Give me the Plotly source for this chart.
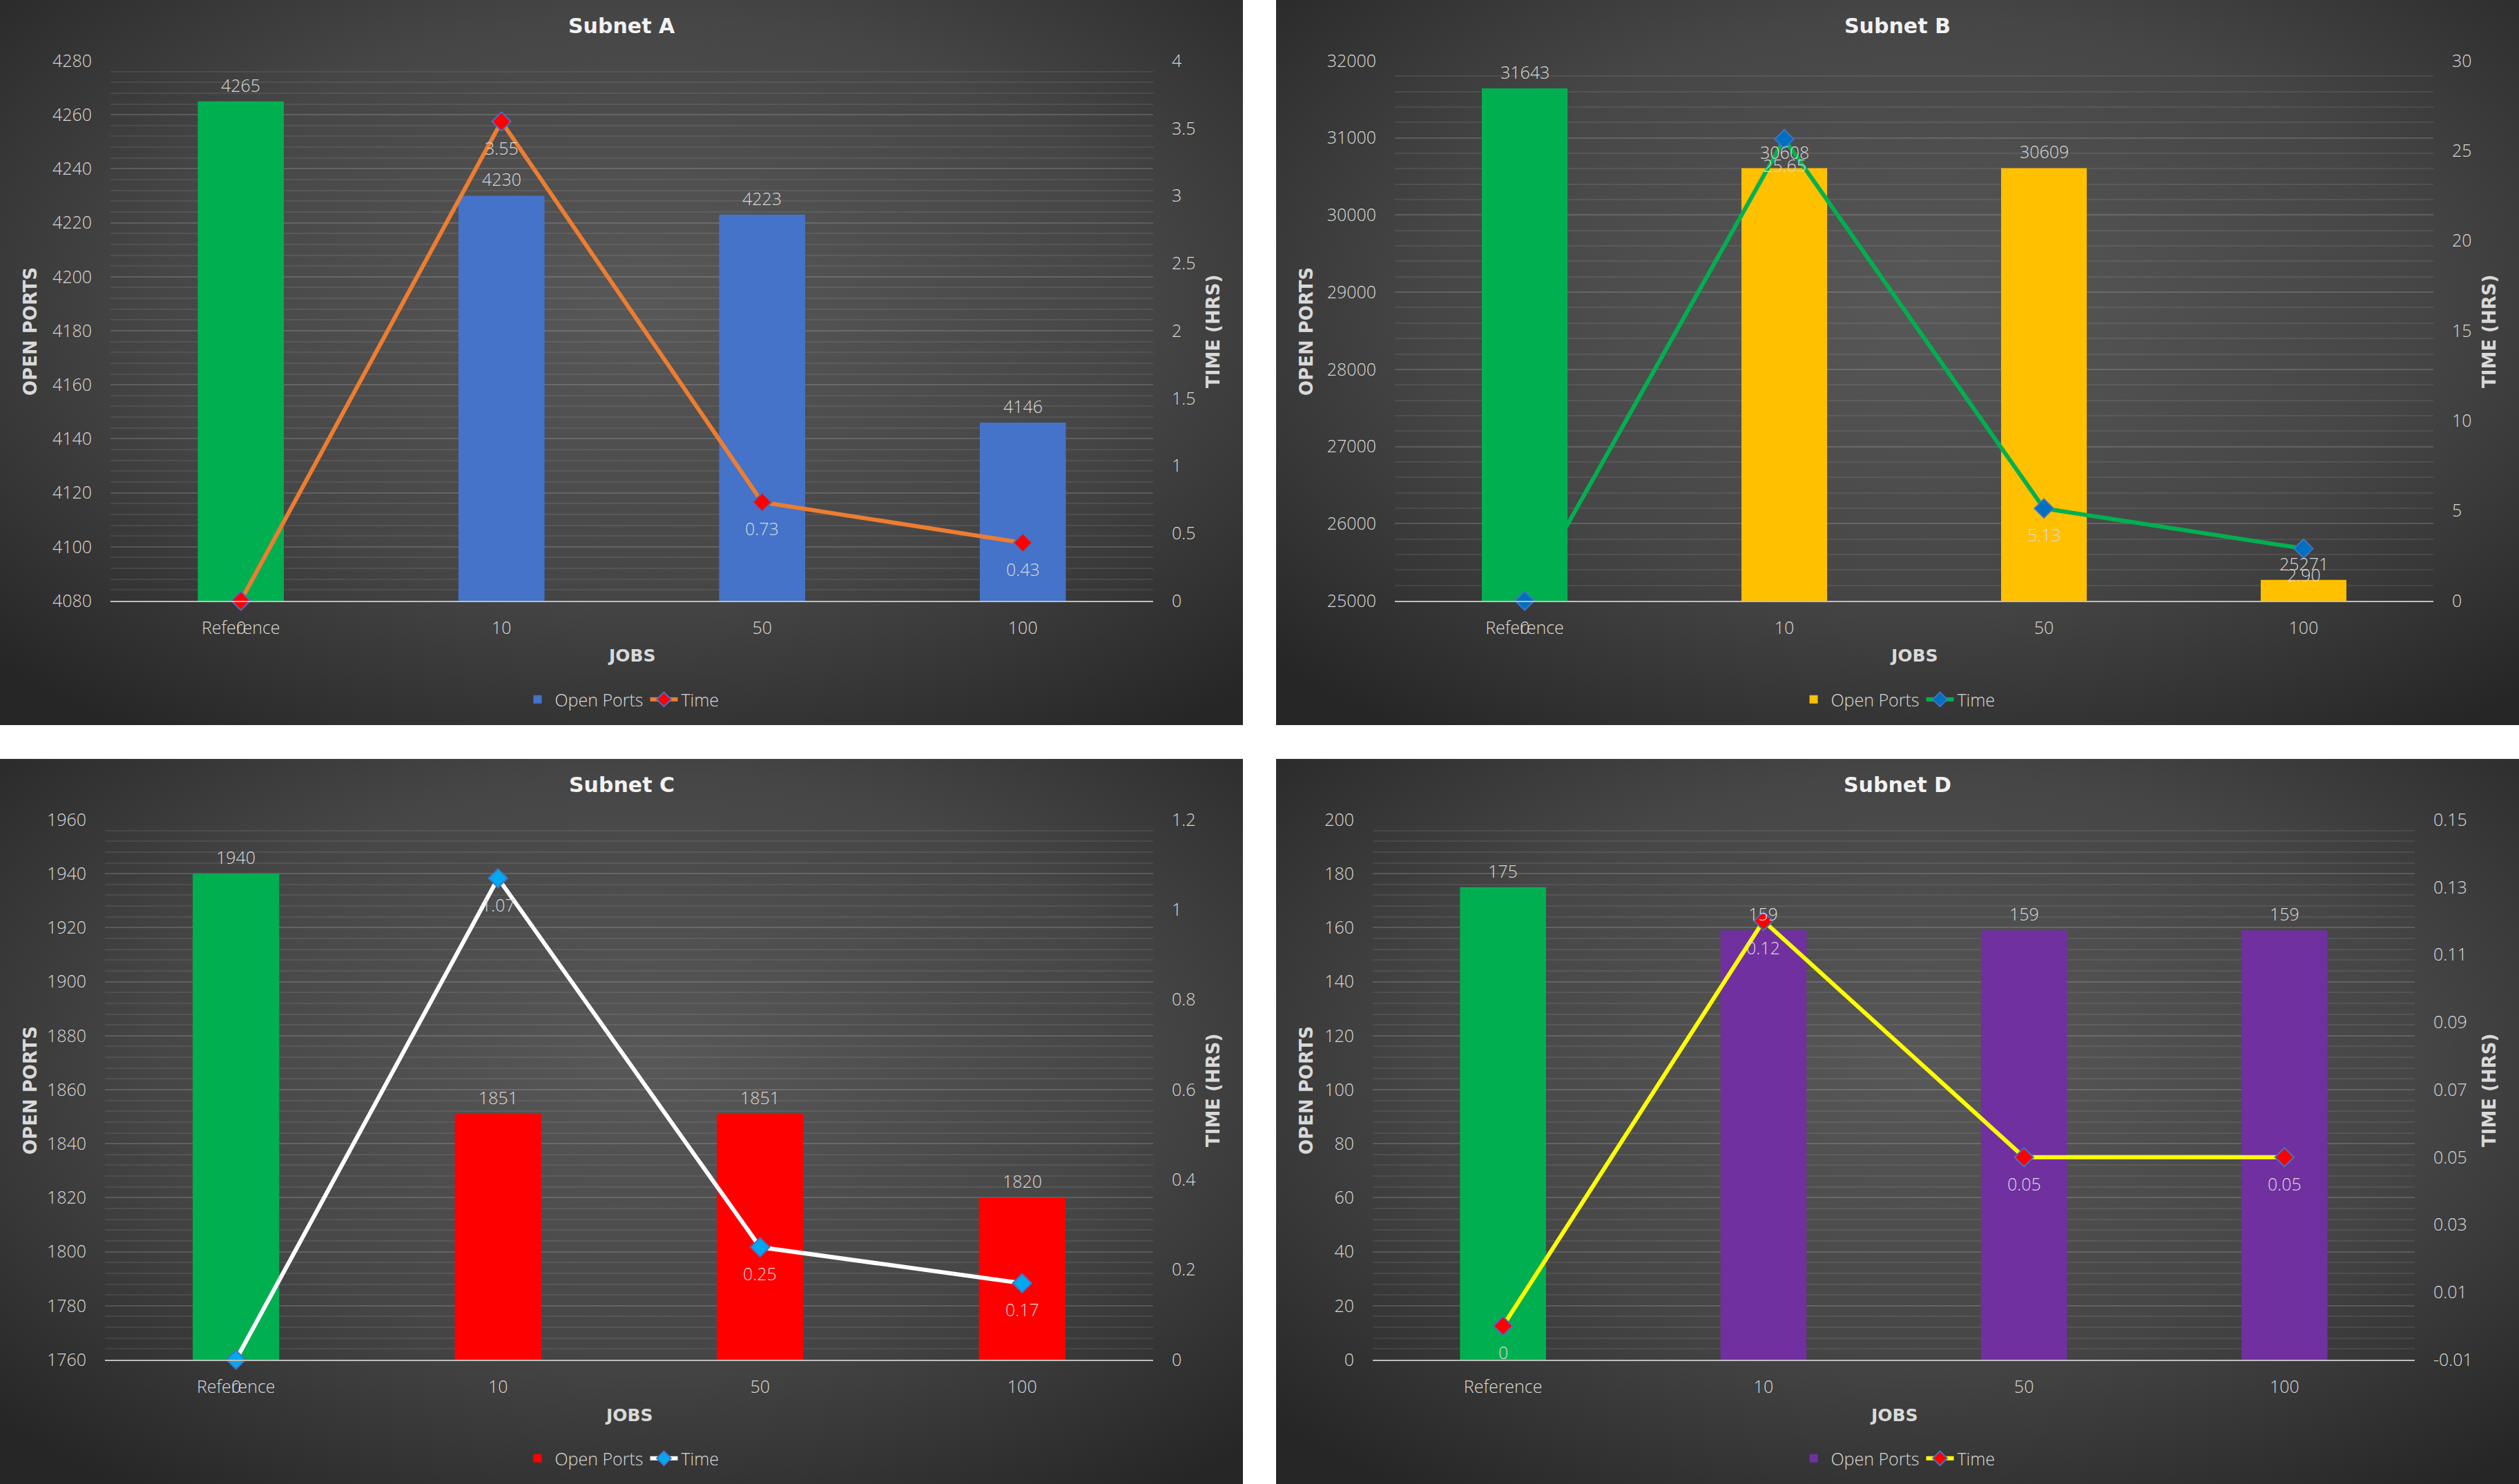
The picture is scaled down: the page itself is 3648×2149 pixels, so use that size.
import base64
import numpy as np
import plotly.graph_objects as go

W, H = 3648, 2149

# data
categories = ["Reference", "10", "50", "100"]
subnets = ["Subnet A", "Subnet B", "Subnet C", "Subnet D"]

ports_a = [4265, 4230, 4223, 4146]
time_a = [0, 3.55, 0.73, 0.43]
ports_b = [31643, 30608, 30609, 25271]
time_b = [0, 25.65, 5.13, 2.90]
ports_c = [1940, 1851, 1851, 1820]
time_c = [0, 1.07, 0.25, 0.17]
ports_d = [175, 159, 159, 159]
time_d = [0, 0.12, 0.05, 0.05]

ports = [ports_a, ports_b, ports_c, ports_d]
times = [time_a, time_b, time_c, time_d]

# axis scales (min, max, step)
left_axes = [(4080, 4280, 20), (25000, 32000, 1000), (1760, 1960, 20), (0, 200, 20)]
right_axes = [(0, 4, 0.5), (0, 30, 5), (0, 1.2, 0.2), (-0.01, 0.15, 0.02)]

# styles
REF_COLOR = "#00B050"
bar_colors = ["#4473C9", "#FFC000", "#FF0000", "#7030A0"]
line_colors = ["#ED7D31", "#00B050", "#FFFFFF", "#FFFF00"]
marker_colors = ["#FF0000", "#0070C0", "#00A8F0", "#FF0000"]
TXT = "#d9d9d9"
FONT = "Open Sans"
BOLD = "DejaVu Sans"
LIGHT = dict(size=25, color=TXT, family=FONT, weight=300)

# panel origins and plot boxes (pixels, relative to panel)
panels = [(0, 0), (1848, 0), (0, 1099), (1848, 1099)]
boxes = [(160, 1670), (172, 1676), (152, 1670), (140, 1649)]
PW, PH = 1800, 1050
TOP, BOT = 88, 870

svg = (
    '<svg xmlns="http://www.w3.org/2000/svg" width="1800" height="1050" '
    'preserveAspectRatio="none"><defs><radialGradient id="g" cx="52%" cy="42%" r="72%">'
    '<stop offset="0" stop-color="#585858"/><stop offset="0.55" stop-color="#464646"/>'
    '<stop offset="1" stop-color="#262626"/></radialGradient></defs>'
    '<rect width="1800" height="1050" fill="url(#g)"/></svg>'
)
bg_src = "data:image/svg+xml;base64," + base64.b64encode(svg.encode()).decode()


def fmt(v):
    return "0" if v == 0 else f"{v:.2f}"


fig = go.Figure()
layout = dict(
    width=W, height=H, margin=dict(l=0, r=0, t=0, b=0, autoexpand=False),
    paper_bgcolor="white", plot_bgcolor="rgba(0,0,0,0)",
    barmode="overlay", showlegend=True,
    font=dict(family=FONT, color=TXT, size=25),
)
images = []
annotations = []

for i in range(4):
    n = i + 1
    px, py = panels[i]
    x0, x1 = boxes[i]
    xd = [(px + x0) / W, (px + x1) / W]
    yd = [1 - (py + BOT) / H, 1 - (py + TOP) / H]
    xa, ya, ya2 = f"x{n}", f"y{n}", f"y{n + 4}"
    leg = "legend" if n == 1 else f"legend{n}"

    # reference bar (green) and job bars
    fig.add_trace(go.Bar(
        x=categories[:1], y=ports[i][:1], width=0.33, xaxis=xa, yaxis=ya,
        marker=dict(color=REF_COLOR, line=dict(width=0)),
        showlegend=False, name="Open Ports", legend=leg,
    ))
    fig.add_trace(go.Bar(
        x=categories[1:], y=ports[i][1:], width=0.33, xaxis=xa, yaxis=ya,
        marker=dict(color=bar_colors[i], line=dict(width=0)),
        name="Open Ports", legend=leg,
    ))
    fig.add_trace(go.Scatter(
        x=categories, y=times[i], xaxis=xa, yaxis=ya2,
        mode="lines+markers", name="Time", legend=leg, cliponaxis=False,
        line=dict(color=line_colors[i], width=6),
        marker=dict(symbol="diamond", size=21, color=marker_colors[i],
                    line=dict(color="#4472C4", width=2)),
    ))

    # data labels (x given as category index)
    for j, (p, t) in enumerate(zip(ports[i], times[i])):
        annotations.append(dict(
            x=j, y=p, xref=xa, yref=ya, text=str(p), showarrow=False,
            yshift=24, font=LIGHT))
        annotations.append(dict(
            x=j, y=t, xref=xa, yref=ya2, text=fmt(t), showarrow=False,
            yshift=-38, font=LIGHT))

    lmin, lmax, lstep = left_axes[i]
    rmin, rmax, rstep = right_axes[i]
    rvals = [round(v, 4) for v in np.arange(rmin, rmax + rstep / 2, rstep)]

    layout[f"xaxis{n}"] = dict(
        domain=xd, anchor=ya, type="category", range=[-0.5, 3.5], automargin=False,
        showgrid=False, zeroline=False, showline=True, linecolor="#bfbfbf", linewidth=2,
        ticks="", ticklabelstandoff=16, tickfont=LIGHT,
    )
    layout[f"yaxis{n}"] = dict(
        domain=yd, anchor=xa, range=[lmin, lmax], dtick=lstep, tick0=lmin, tickformat="d",
        automargin=False,
        showgrid=True, gridcolor="rgba(255,255,255,0.15)", gridwidth=2,
        zeroline=False, showline=False, ticks="", ticklabelstandoff=26,
        tickfont=LIGHT,
        minor=dict(dtick=lstep / 5, tick0=lmin, showgrid=True,
                   gridcolor="rgba(255,255,255,0.08)", gridwidth=2),
    )
    layout[f"yaxis{n + 4}"] = dict(
        anchor=xa, overlaying=ya, side="right", range=[rmin, rmax], automargin=False,
        tickmode="array", tickvals=rvals, ticktext=[f"{v:g}" for v in rvals],
        showgrid=False, zeroline=False, showline=False, ticks="", ticklabelstandoff=26,
        tickfont=LIGHT,
    )
    layout[leg] = dict(
        x=(px + 900) / W, y=1 - (py + 1013) / H, xanchor="center", yanchor="middle",
        orientation="h", bgcolor="rgba(0,0,0,0)", font=LIGHT,
        itemwidth=40, tracegroupgap=0,
    )

    images.append(dict(
        source=bg_src, xref="paper", yref="paper", x=px / W, y=1 - py / H,
        sizex=PW / W, sizey=PH / H, xanchor="left", yanchor="top",
        sizing="stretch", layer="below",
    ))

    annotations += [
        dict(text=f"<b>{subnets[i]}</b>", x=(px + 900) / W, y=1 - (py + 37) / H,
             xref="paper", yref="paper", showarrow=False, xanchor="center", yanchor="middle",
             font=dict(size=30, color="#f2f2f2", family=BOLD)),
        dict(text="<b>JOBS</b>", x=(px + (x0 + x1) / 2) / W, y=1 - (py + 950) / H,
             xref="paper", yref="paper", showarrow=False, xanchor="center", yanchor="middle",
             font=dict(size=25, color=TXT, family=BOLD)),
        dict(text="<b>OPEN PORTS</b>", x=(px + 44) / W, y=1 - (py + 480) / H, textangle=-90,
             xref="paper", yref="paper", showarrow=False, xanchor="center", yanchor="middle",
             font=dict(size=26, color=TXT, family=BOLD)),
        dict(text="<b>TIME (HRS)</b>", x=(px + 1757) / W, y=1 - (py + 480) / H, textangle=-90,
             xref="paper", yref="paper", showarrow=False, xanchor="center", yanchor="middle",
             font=dict(size=26, color=TXT, family=BOLD)),
    ]

layout["images"] = images
layout["annotations"] = annotations
fig.update_layout(**layout)

fig.write_html(
    "out.html",
    config={"displayModeBar": False},
    post_script="document.body.style.margin='0';document.body.style.overflow='hidden';",
)
